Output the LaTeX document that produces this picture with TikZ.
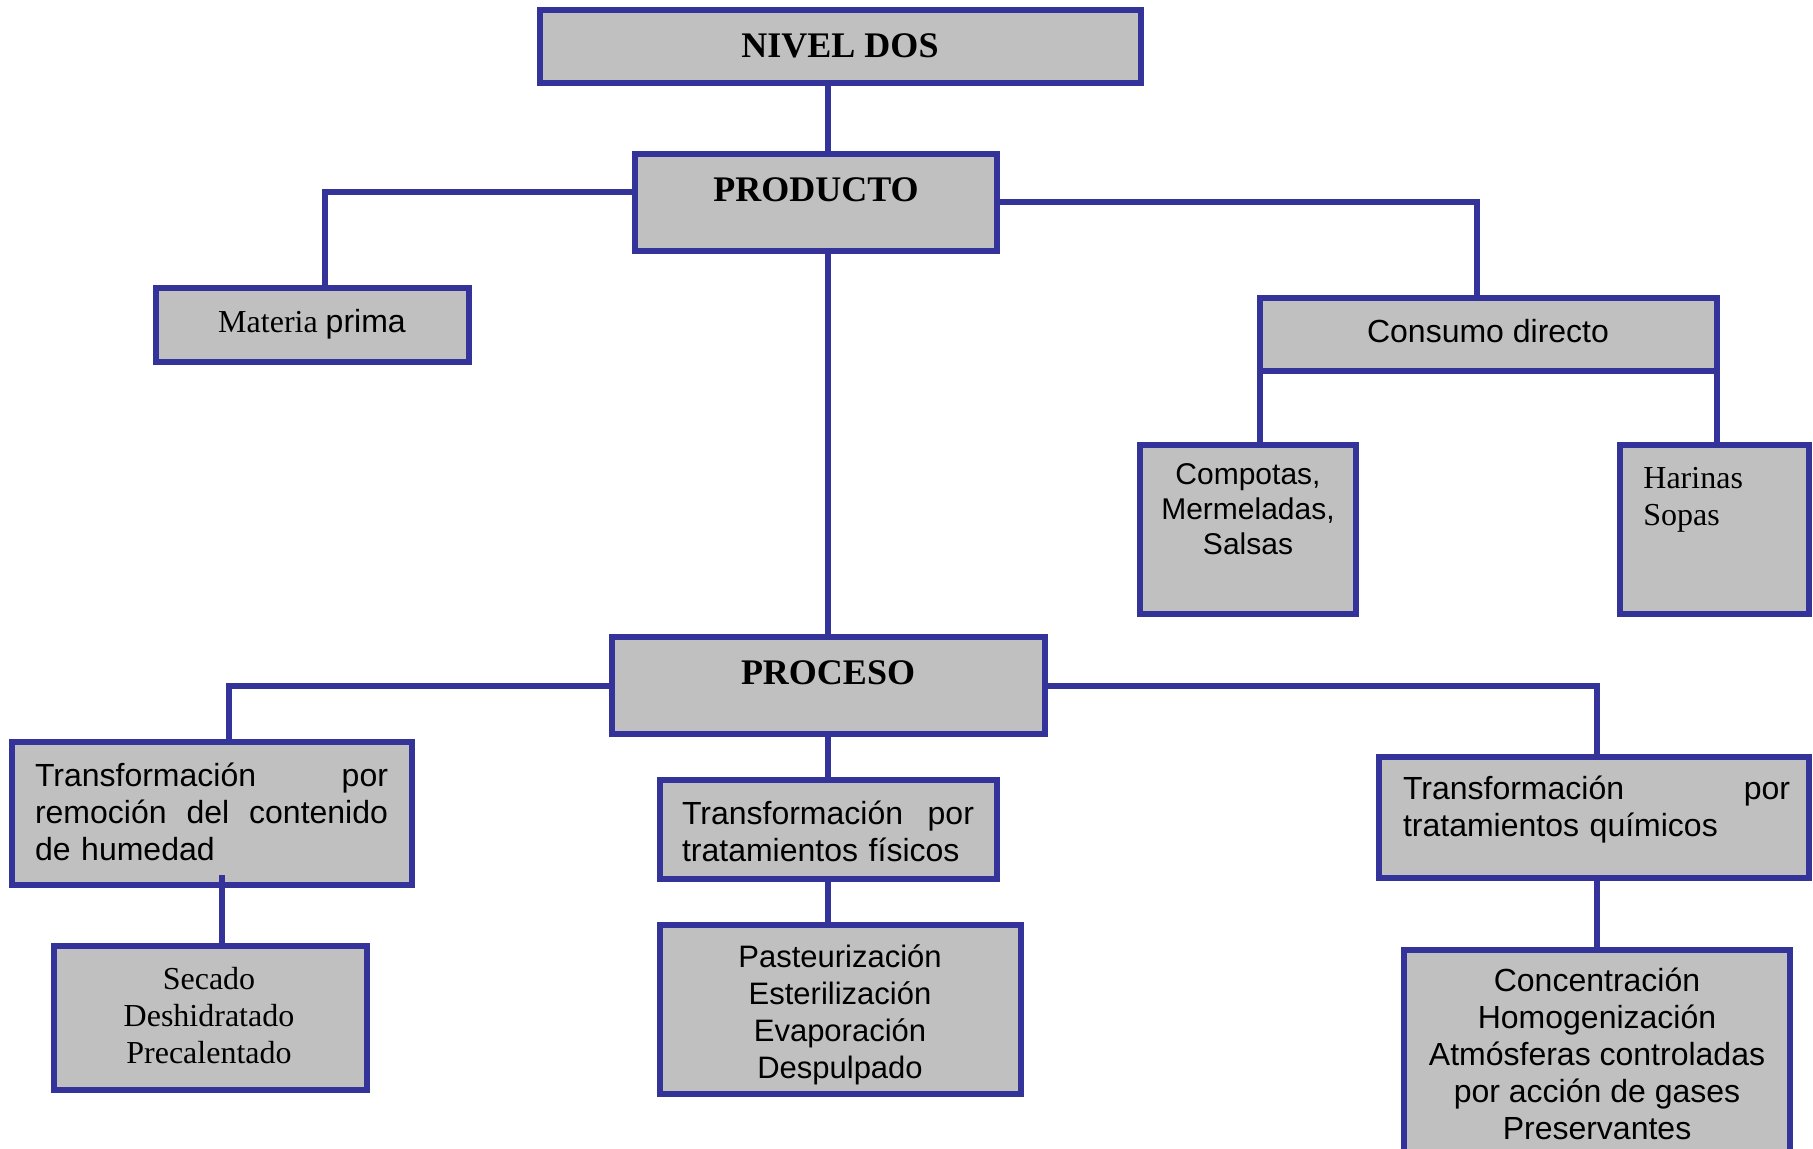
\documentclass[tikz,border=0pt]{standalone}
\usepackage{fontspec}
\setmainfont{Liberation Serif}
\newfontfamily\arialfont{Liberation Sans}
\definecolor{bord}{HTML}{333399}
\definecolor{boxgray}{HTML}{C0C0C0}
\newcommand\mybox[5]{\node[box,anchor=north west,minimum width={(#4-#2)*0.5pt},minimum height={(#5-#3)*0.5pt}] (#1) at (#2,#3) {};}
\begin{document}
\begin{tikzpicture}[x=0.5pt,y=-0.5pt,
 box/.style={draw=bord,fill=boxgray,line width=2.8pt,inner sep=0pt,outer sep=0pt},
 conn/.style={draw=bord,line width=2.7pt},
 sans/.style={inner sep=0pt,font=\arialfont\fontsize{16}{18.5}\selectfont},
 serif/.style={inner sep=0pt,font=\fontsize{16}{18.5}\selectfont},
 head/.style={inner sep=0pt,font=\fontsize{18}{21}\selectfont\bfseries}]
\useasboundingbox (0,0) rectangle (1813,1149);
\clip (0,0) rectangle (1813,1149);

\mybox{nivel}{540}{10}{1141}{83}
\mybox{prod}{635}{154}{997}{251}
\mybox{mat}{156}{288}{469}{362}
\mybox{cons}{1260}{298}{1717}{371}
\mybox{comp}{1140}{445}{1356}{614}
\mybox{har}{1620}{445}{1809}{614}
\mybox{proc}{612}{637}{1045}{734}
\mybox{t1}{12}{742}{412}{885}
\mybox{t2}{660}{780}{997}{879}
\mybox{t3}{1379}{757}{1809}{878}
\mybox{sec}{54}{946}{367}{1090}
\mybox{past}{660}{925}{1021}{1094}
\mybox{t4}{1404}{950}{1790}{1175}

\node[head] (tnivel) at (840,46) {NIVEL DOS};
\node[head] (tprod) at (816,190) {PRODUCTO};
\node[serif] (tmat) at (312,324) {Materia {\arialfont prima}};
\node[sans] (tcons) at (1488,331) {Consumo directo};
\node[sans,font=\arialfont\fontsize{15}{17.4}\selectfont,align=center] (tcomp) at (1248,509) {Compotas,\\Mermeladas,\\Salsas};
\node[serif,align=left,anchor=west] (thar) at (1643,500) {Harinas\\Sopas};
\node[head] (tproc) at (828,673) {PROCESO};
\node[sans,text width=176.5pt,align=left] (tt1) at (211.5,811.5) {Transformación\hfill por\\remoción\hfill del\hfill contenido\\de humedad};
\node[sans,text width=146pt,align=left] (tt2) at (828,831) {Transformación\hfill por\\tratamientos físicos};
\node[sans,text width=193.5pt,align=left] (tt3) at (1596.5,810) {Transformación\hfill por\\tratamientos químicos};
\node[serif,align=center] (tsec) at (209,1016) {Secado\\Deshidratado\\Precalentado};
\node[sans,font=\arialfont\fontsize{15.5}{18.5}\selectfont,align=center] (tpast) at (840,1015) {Pasteurización\\Esterilización\\Evaporación\\Despulpado};
\node[sans,align=center] (tt4) at (1597,1054) {Concentración\\Homogenización\\Atmósferas controladas\\por acción de gases\\Preservantes};

\coordinate (xm) at (828,0);
\draw[conn] (xm |- nivel.south) -- (xm |- prod.north);
\coordinate (b1) at (325,192);
\draw[conn] (b1 -| prod.west) -- (b1) -- (b1 |- mat.north);
\coordinate (b2) at (1477,202);
\draw[conn] (b2 -| prod.east) -- (b2) -- (b2 |- cons.north);
\draw[conn] (cons.south west) -- (cons.south west |- comp.north);
\draw[conn] (cons.south east) -- (cons.south east |- har.north);
\draw[conn] (xm |- prod.south) -- (xm |- proc.north);
\coordinate (b3) at (229,686);
\draw[conn] (b3 -| proc.west) -- (b3) -- (b3 |- t1.north);
\coordinate (b4) at (222,875);
\draw[conn] (b4) -- (b4 |- sec.north);
\draw[conn] (xm |- proc.south) -- (xm |- t2.north);
\draw[conn] (xm |- t2.south) -- (xm |- past.north);
\coordinate (b5) at (1597,686);
\draw[conn] (b5 -| proc.east) -- (b5) -- (b5 |- t3.north);
\draw[conn] (b5 |- t3.south) -- (b5 |- t4.north);
\end{tikzpicture}
\end{document}
